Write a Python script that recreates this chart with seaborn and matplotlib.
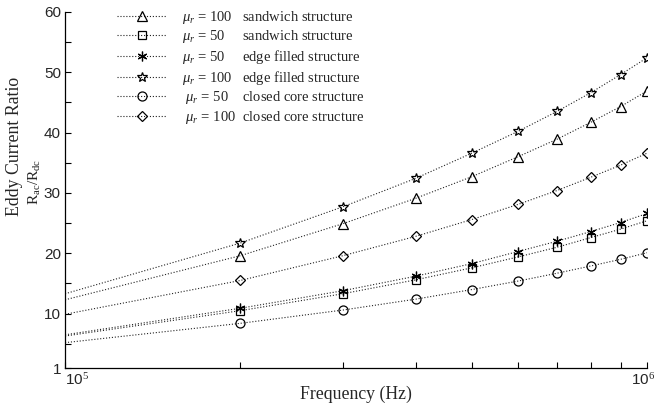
import numpy as np
import pandas as pd
import matplotlib
matplotlib.use("Agg")
import matplotlib.pyplot as plt
import matplotlib.ticker as mticker
import matplotlib.transforms as mtransforms
import seaborn as sns

freq = [1e5, 2e5, 3e5, 4e5, 5e5, 6e5, 7e5, 8e5, 9e5, 1e6]

sandwich_100 = [12.3, 19.6, 24.9, 29.1, 32.7, 36.0, 38.9, 41.7, 44.3, 46.9]
sandwich_50 = [6.3, 10.5, 13.3, 15.6, 17.6, 19.4, 21.0, 22.6, 24.0, 25.4]
edge_50 = [6.5, 10.9, 13.8, 16.2, 18.3, 20.3, 22.0, 23.6, 25.1, 26.6]
edge_100 = [13.3, 21.7, 27.7, 32.4, 36.6, 40.2, 43.5, 46.6, 49.6, 52.4]
closed_50 = [5.2, 8.4, 10.6, 12.4, 14.0, 15.4, 16.7, 17.9, 19.0, 20.1]
closed_100 = [9.9, 15.5, 19.6, 22.8, 25.6, 28.1, 30.4, 32.6, 34.6, 36.6]

labels = [
    r"$\mu_r$ = 100   sandwich structure",
    r"$\mu_r$ = 50     sandwich structure",
    r"$\mu_r$ = 50     edge filled structure",
    r"$\mu_r$ = 100   edge filled structure",
    r" $\mu_r$ = 50    closed core structure",
    r" $\mu_r$ = 100  closed core structure",
]
series = [sandwich_100, sandwich_50, edge_50, edge_100, closed_50, closed_100]

yticks = [1, 10, 20, 30, 40, 50, 60]
yminor = [5, 15, 25, 35, 45, 55]

sns.set_theme(style="ticks")
plt.rcParams["font.family"] = ["Liberation Serif", "DejaVu Serif"]
plt.rcParams["mathtext.fontset"] = "custom"
plt.rcParams["mathtext.rm"] = "Liberation Serif"
plt.rcParams["mathtext.it"] = "Liberation Serif:italic"

fig = plt.figure(figsize=(6.57, 4.08), dpi=100)
ax = fig.add_axes([0.099, 0.098, 0.886, 0.873])

styles = [
    dict(marker="^", ms=7),
    dict(marker="s", ms=5.5),
    dict(marker=(6, 2, 0), ms=7),
    dict(marker="*", ms=7),
    dict(marker="o", ms=6.5),
    dict(marker="D", ms=5),
]

for vals, lab, st in zip(series, labels, styles):
    df = pd.DataFrame({"f": freq, "r": vals})
    sns.lineplot(data=df, x="f", y="r", ax=ax, color="#222222", linestyle=":",
                 linewidth=0.8, marker=st["marker"], markersize=st["ms"],
                 markerfacecolor="none", markeredgecolor="black",
                 markeredgewidth=0.9, markevery=list(range(1, len(freq))),
                 label=lab)

ax.set_xscale("log")
ax.set_xlim(1e5, 1e6)
ax.set_ylim(1, 60)
ax.set_yticks(yticks)
ax.set_yticks(yminor, minor=True)
ax.xaxis.set_major_locator(mticker.FixedLocator([1e5, 1e6]))
ax.xaxis.set_minor_locator(mticker.FixedLocator([2e5, 3e5, 4e5, 5e5, 6e5, 7e5, 8e5, 9e5]))
ax.xaxis.set_major_formatter(mticker.FixedFormatter([r"10$^5$", r"10$^6$"]))
ax.xaxis.set_minor_formatter(mticker.NullFormatter())

ax.tick_params(which="both", direction="in", width=0.8, color="black", pad=3)
ax.tick_params(which="major", length=4)
ax.tick_params(which="minor", length=4)
for lbl in ax.get_xticklabels() + ax.get_yticklabels():
    lbl.set_family(["Liberation Sans", "DejaVu Sans"])
    lbl.set_fontsize(11)
xt = ax.xaxis.get_major_ticks()
xt[0].label1.set_horizontalalignment("left")
xt[1].label1.set_horizontalalignment("right")
xt[1].label1.set_transform(xt[1].label1.get_transform() +
                           mtransforms.ScaledTranslation(8 / 100, 0, fig.dpi_scale_trans))

for s in ["top", "right"]:
    ax.spines[s].set_visible(False)
for s in ["left", "bottom"]:
    ax.spines[s].set_color("black")
    ax.spines[s].set_linewidth(0.9)

ax.set_xlabel("Frequency (Hz)", fontsize=12.8, labelpad=-2)
ax.set_ylabel("Eddy Current Ratio", fontsize=12.8)
ax.yaxis.set_label_coords(-0.073, 0.621)
ax.text(-0.051, 0.522, r"$\mathrm{R_{ac}/R_{dc}}$", transform=ax.transAxes,
        rotation=90, ha="center", va="center", fontsize=11)

leg = ax.legend(loc="upper left", bbox_to_anchor=(0.08, 1.025), frameon=False,
                fontsize=10.5, handlelength=3.3, handletextpad=1.1, labelspacing=0.18,
                borderaxespad=0)

fig.savefig("out.png", dpi=100)
